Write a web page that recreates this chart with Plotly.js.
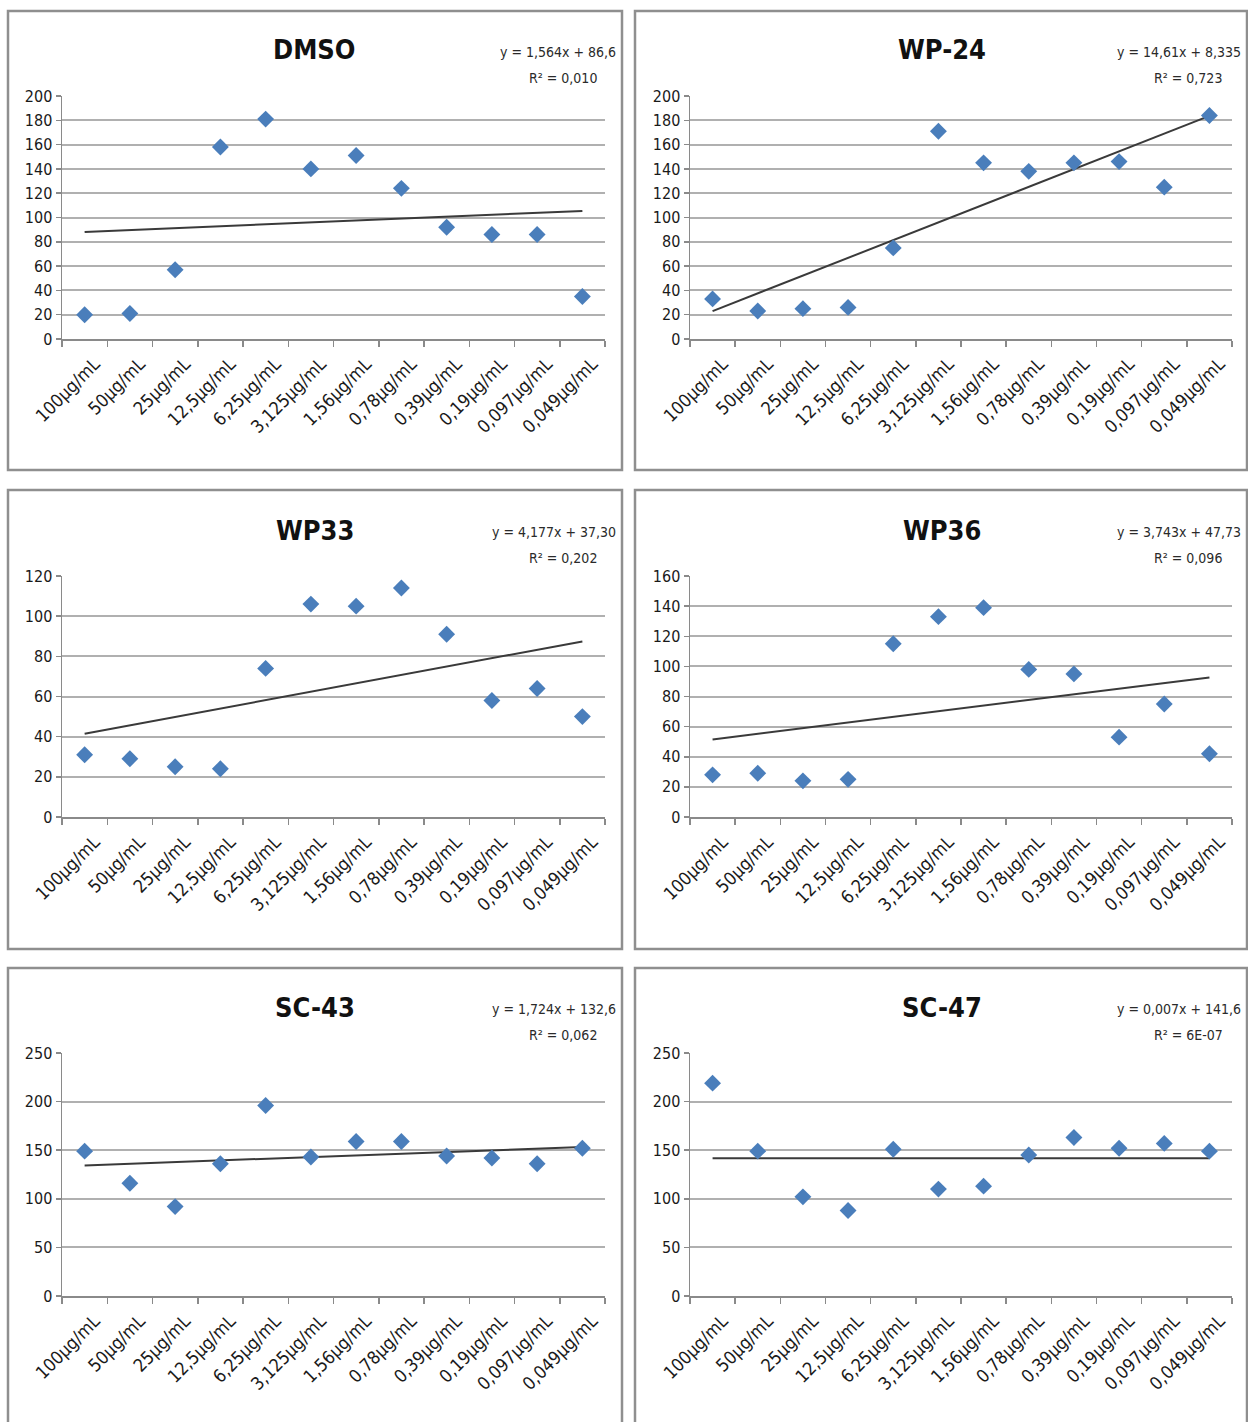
<!DOCTYPE html>
<html>
<head>
<meta charset="utf-8">
<script src="https://cdn.plot.ly/plotly-3.0.1.min.js"></script>
<style>html,body{margin:0;padding:0;background:#fff;}#chart{width:1248px;height:1422px;}</style>
</head>
<body>
<div id="chart"></div>
<script>
// ---- data ----
const categories = ["100μg/mL","50μg/mL","25μg/mL","12,5μg/mL","6,25μg/mL","3,125μg/mL","1,56μg/mL","0,78μg/mL","0,39μg/mL","0,19μg/mL","0,097μg/mL","0,049μg/mL"];
const panelNames = ["DMSO","WP-24","WP33","WP36","SC-43","SC-47"];
const dmso  = [20, 21, 57, 158, 181, 140, 151, 124, 92, 86, 86, 35];
const wp24  = [33, 23, 25, 26, 75, 171, 145, 138, 145, 146, 125, 184];
const wp33  = [31, 29, 25, 24, 74, 106, 105, 114, 91, 58, 64, 50];
const wp36  = [28, 29, 24, 25, 115, 133, 139, 98, 95, 53, 75, 42];
const sc43  = [149, 116, 92, 136, 196, 143, 159, 159, 144, 142, 136, 152];
const sc47  = [219, 149, 102, 88, 151, 110, 113, 145, 163, 152, 157, 149];
const slopes     = [1.564, 14.61, 4.177, 3.743, 1.724, 0.007];
const intercepts = [86.6, 8.335, 37.30, 47.73, 132.6, 141.6];
const eqTexts = ["y = 1,564x + 86,6","y = 14,61x + 8,335","y = 4,177x + 37,30","y = 3,743x + 47,73","y = 1,724x + 132,6","y = 0,007x + 141,6"];
const r2Texts = ["R² = 0,010","R² = 0,723","R² = 0,202","R² = 0,096","R² = 0,062","R² = 6E-07"];
const yMax  = [200, 200, 120, 160, 250, 250];
const yStep = [20, 20, 20, 20, 50, 50];
const seriesList = [dmso, wp24, wp33, wp36, sc43, sc47];

// ---- geometry (pixels) ----
const W = 1248, H = 1422;
const colPlotX = [[62, 605], [690, 1232]];
const rowPlotY = [[96, 339], [576, 817], [1053, 1296]];
const colBox = [[8, 622], [635, 1247]];
const rowBox = [[11, 470], [490, 949], [968, 1440]];
const px = x => x / W;
const py = y => 1 - y / H;

const FONT = "'Liberation Sans Narrow', 'DejaVu Sans Condensed', 'Arial Narrow', sans-serif";
const traces = [], shapes = [], annotations = [];
const layout = {
  width: W, height: H, margin: {l: 0, r: 0, t: 0, b: 0},
  paper_bgcolor: "#ffffff", plot_bgcolor: "rgba(0,0,0,0)",
  showlegend: false, font: {family: FONT, color: "#222"}
};

for (let i = 0; i < 6; i++) {
  const col = i % 2, row = Math.floor(i / 2);
  const n = i + 1;
  const xa = n === 1 ? "x" : "x" + n, ya = n === 1 ? "y" : "y" + n;
  const xk = n === 1 ? "xaxis" : "xaxis" + n, yk = n === 1 ? "yaxis" : "yaxis" + n;
  const [x0, x1] = colPlotX[col], [yt, yb] = rowPlotY[row];
  layout[xk] = {
    domain: [px(x0), px(x1)], anchor: ya, type: "category",
    categoryorder: "array", categoryarray: categories, range: [-0.5, 11.5],
    showgrid: false, zeroline: false, showline: true, linecolor: "#8a8a8a", linewidth: 1.5,
    ticks: "outside", tickson: "boundaries", ticklen: 6, tickcolor: "#8a8a8a", tickwidth: 1.5,
    tickangle: -45, ticklabelshift: 10, ticklabelstandoff: 6,
    tickfont: {family: FONT, size: 18, color: "#1a1a1a"}, fixedrange: true
  };
  layout[yk] = {
    domain: [py(yb), py(yt)], anchor: xa, range: [0, yMax[i]], dtick: yStep[i], tick0: 0,
    showgrid: true, gridcolor: "#b0b0b0", gridwidth: 2, zeroline: false,
    showline: true, linecolor: "#8a8a8a", linewidth: 1.5,
    ticks: "outside", ticklen: 5, tickcolor: "#8a8a8a", tickwidth: 1.5,
    tickfont: {family: FONT, size: 16, color: "#1a1a1a"}, fixedrange: true
  };
  // trendline from the printed fit
  traces.push({
    type: "scatter", mode: "lines", xaxis: xa, yaxis: ya,
    x: [categories[0], categories[categories.length - 1]],
    y: [slopes[i] * 1 + intercepts[i], slopes[i] * categories.length + intercepts[i]],
    line: {color: "#3a3a3a", width: 2}, hoverinfo: "skip"
  });
  traces.push({
    type: "scatter", mode: "markers", xaxis: xa, yaxis: ya,
    x: categories, y: seriesList[i],
    marker: {symbol: "diamond", size: 13, color: "#4a7ebb"}
  });
  // panel border
  const [bx0, bx1] = colBox[col], [by0, by1] = rowBox[row];
  shapes.push({type: "rect", xref: "paper", yref: "paper", x0: px(bx0), x1: px(bx1), y0: py(by1), y1: py(by0),
    line: {color: "#8f8f8f", width: 2.5}, fillcolor: "rgba(0,0,0,0)", layer: "below"});
  // title
  annotations.push({xref: "paper", yref: "paper", x: px((x0 + x1) / 2 - 19), y: py(yt - 46),
    text: "<b>" + panelNames[i] + "</b>", showarrow: false, xanchor: "center", yanchor: "middle",
    font: {family: FONT, size: 27, color: "#111"}});
  // equation
  annotations.push({xref: "paper", yref: "paper", x: px(bx1 - 4), y: py(yt - 44),
    text: eqTexts[i], showarrow: false, xanchor: "right", yanchor: "middle",
    font: {family: FONT, size: 14, color: "#2a2a2a"}});
  annotations.push({xref: "paper", yref: "paper", x: px(bx1 - 59), y: py(yt - 18),
    text: r2Texts[i], showarrow: false, xanchor: "center", yanchor: "middle",
    font: {family: FONT, size: 14, color: "#2a2a2a"}});
}
layout.shapes = shapes;
layout.annotations = annotations;
Plotly.newPlot("chart", traces, layout, {staticPlot: true});
</script>
</body>
</html>
